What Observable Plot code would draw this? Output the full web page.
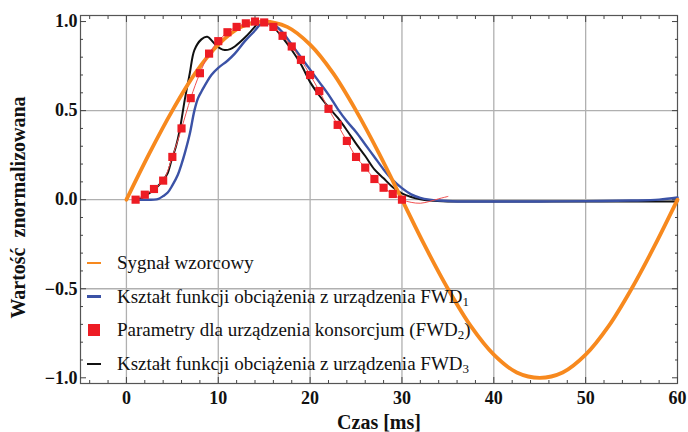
<!DOCTYPE html>
<html><head><meta charset="utf-8">
<script src="https://cdn.jsdelivr.net/npm/d3@7"></script>
<script src="https://cdn.jsdelivr.net/npm/@observablehq/plot@0.6"></script>
<style>
body{margin:0;background:#fff;}
#wrap{position:relative;width:688px;height:432px;}
#legend{position:absolute;left:86px;top:246px;font-family:'Liberation Serif';font-size:19px;color:#111;}
.row{height:33.7px;display:flex;align-items:center;white-space:nowrap;}
.sw{width:16px;margin-right:15px;display:flex;align-items:center;justify-content:center;}
.ln{width:14px;height:2.5px;}
.sq{width:12px;height:12px;}
sub{font-size:13px;vertical-align:-3px;line-height:0;}
svg text{font-family:'Liberation Serif';}
</style></head>
<body>
<div id="wrap"></div>
<script>
// Sygnał wzorcowy (orange)
const orangeT = [0,2.5,5,7.5,10,12.5,15,17.5,20,22.5,25,27.5,30,32.5,35,37.5,40,42.5,45,47.5,50,52.5,55,57.5,60];
const orangeV = [0,0.26,0.50,0.71,0.87,0.97,1.00,0.97,0.87,0.71,0.50,0.26,0,-0.26,-0.50,-0.71,-0.87,-0.97,-1.00,-0.97,-0.87,-0.71,-0.50,-0.26,0];

// FWD1 (blue)
const blueT = [1,2,3,3.5,4,4.5,5,5.6,6,6.35,6.9,7.4,7.8,8.2,9.25,10,11,11.8,12.9,14,14.7,15.3,16,17,18,19,20,21,22,23,24,25,26,27,28,29,30,31,32,33,34,36,40,45,50,55,58,60];
const blueV = [0,0,0,0.005,0.02,0.04,0.08,0.14,0.2,0.26,0.37,0.5,0.57,0.61,0.7,0.74,0.78,0.82,0.89,0.95,0.99,1.0,0.985,0.94,0.87,0.80,0.73,0.66,0.59,0.51,0.44,0.38,0.31,0.24,0.17,0.11,0.065,0.03,0.01,0,-0.005,-0.01,-0.01,-0.01,-0.008,-0.005,0,0.012];

// FWD3 (black)
const blackT = [1,1.5,2,3.1,4,4.5,4.9,5.4,5.8,6.35,6.9,7.4,8.16,8.8,9.6,10.2,10.7,11.3,11.8,12.9,13.8,14.5,15,16,17,18,19,20,21,22,23,24,25,26,27,28,29,30,31,32,33,35,40,50,55,60];
const blackV = [0,0.005,0.02,0.06,0.11,0.15,0.22,0.30,0.39,0.56,0.71,0.84,0.90,0.915,0.875,0.85,0.84,0.845,0.86,0.91,0.96,1.0,1.0,0.97,0.91,0.84,0.76,0.66,0.585,0.52,0.46,0.39,0.315,0.245,0.17,0.12,0.07,0.035,0.015,0.002,-0.005,-0.01,-0.01,-0.01,-0.01,-0.01];

// FWD2 (red squares)
const redT = [1,2,3,4,5,6,7,8,9,10,11,12,13,14,15,16,17,18,19,20,21,22,23,24,25,26,27,28,29,30];
const redV = [0,0.028,0.06,0.107,0.24,0.40,0.57,0.71,0.82,0.89,0.94,0.97,0.99,1.0,0.995,0.97,0.92,0.86,0.785,0.70,0.61,0.51,0.42,0.33,0.24,0.18,0.116,0.067,0.032,0];
// thin red fit line continuation
const redLineT = [31,32,33,34,35];
const redLineV = [-0.015,-0.02,-0.01,0.005,0.018];

const xMajor = [0,10,20,30,40,50,60];
const xMinor = [-4,-2,2,4,6,8,12,14,16,18,22,24,26,28,32,34,36,38,42,44,46,48,52,54,56,58];
const yMajor = [-1,-0.5,0,0.5,1];
const yMinor = [-0.9,-0.8,-0.7,-0.6,-0.4,-0.3,-0.2,-0.1,0.1,0.2,0.3,0.4,0.6,0.7,0.8,0.9];
const xGrid = [0,10,20,30,40,50];
const yGrid = [-0.5,0,0.5];

const pts = (T, V) => T.map((t, i) => ({t, v: V[i]}));
const orange = pts(orangeT, orangeV);
const blue = pts(blueT, blueV);
const black = pts(blackT, blackV);
const red = pts(redT, redV);
const redLine = red.concat(pts(redLineT, redLineV));

const C_OR = "#f7891e", C_BL = "#3b52a6", C_RD = "#ed1c24", C_BK = "#111111";
const tickCol = "#444";
const FONT = "Liberation Serif";

const chart = Plot.plot({
  width: 688, height: 432,
  marginLeft: 80, marginRight: 11, marginTop: 15, marginBottom: 49,
  x: {domain: [-5, 60], label: null},
  y: {domain: [-1.032, 1.034], label: null},
  style: {fontFamily: FONT, background: "white", color: "#111"},
  marks: [
    Plot.gridX(xGrid, {stroke: "#b0b0b0", strokeOpacity: 1, strokeWidth: 1.3}),
    Plot.gridY(yGrid, {stroke: "#b0b0b0", strokeOpacity: 1, strokeWidth: 1.3}),
    Plot.frame({stroke: "#555", strokeWidth: 1.2}),
    Plot.axisX(xMajor, {anchor: "bottom", label: null, tickSize: 0, tickPadding: 8, fontSize: 18, fontWeight: "bold", fontFamily: FONT, tickFormat: d => String(d)}),
    Plot.axisY(yMajor, {anchor: "left", label: null, tickSize: 0, tickPadding: 3, fontSize: 18, fontWeight: "bold", fontFamily: FONT, tickFormat: d => d.toFixed(1).replace("-", "\u2212")}),
    Plot.axisX(xMajor, {anchor: "bottom", label: null, tickSize: -6, stroke: tickCol, tickFormat: () => ""}),
    Plot.axisX(xMajor, {anchor: "top", label: null, tickSize: -6, stroke: tickCol, tickFormat: () => ""}),
    Plot.axisX(xMinor, {anchor: "bottom", label: null, tickSize: -3, stroke: tickCol, tickFormat: () => ""}),
    Plot.axisX(xMinor, {anchor: "top", label: null, tickSize: -3, stroke: tickCol, tickFormat: () => ""}),
    Plot.axisY(yMajor, {anchor: "left", label: null, tickSize: -6, stroke: tickCol, tickFormat: () => ""}),
    Plot.axisY(yMajor, {anchor: "right", label: null, tickSize: -6, stroke: tickCol, tickFormat: () => ""}),
    Plot.axisY(yMinor, {anchor: "left", label: null, tickSize: -3, stroke: tickCol, tickFormat: () => ""}),
    Plot.axisY(yMinor, {anchor: "right", label: null, tickSize: -3, stroke: tickCol, tickFormat: () => ""}),
    Plot.line(black, {x: "t", y: "v", stroke: C_BK, strokeWidth: 2, curve: "catmull-rom"}),
    Plot.line(blue, {x: "t", y: "v", stroke: C_BL, strokeWidth: 2.4, curve: "catmull-rom"}),
    Plot.line(orange, {x: "t", y: "v", stroke: C_OR, strokeWidth: 3.8, curve: "catmull-rom"}),
    Plot.line(redLine, {x: "t", y: "v", stroke: "#f25050", strokeWidth: 1, curve: "catmull-rom"}),
    Plot.dot(red, {x: "t", y: "v", symbol: "square", r: 4.6, fill: C_RD, stroke: "none"}),
    Plot.text(["Czas [ms]"], {frameAnchor: "bottom", lineAnchor: "middle", textAnchor: "middle", dy: 39, fontSize: 20, fontWeight: "bold", fontFamily: FONT, fill: "#111"}),
    Plot.text(["Warto\u015b\u0107\u00a0 znormalizowana"], {frameAnchor: "left", textAnchor: "middle", lineAnchor: "middle", dx: -62, dy: 8, rotate: -90, fontSize: 20, fontWeight: "bold", fontFamily: FONT, fill: "#111"})
  ]
});

const wrap = document.getElementById("wrap");
wrap.appendChild(chart);

const legendItems = [
  {type: "line", color: C_OR, html: "Sygna\u0142 wzorcowy"},
  {type: "line", color: C_BL, html: "Kszta\u0142t funkcji obci\u0105\u017cenia z urz\u0105dzenia FWD<sub>1</sub>"},
  {type: "sq", color: C_RD, html: "Parametry dla urz\u0105dzenia konsorcjum (FWD<sub>2</sub>)"},
  {type: "line", color: C_BK, html: "Kszta\u0142t funkcji obci\u0105\u017cenia z urz\u0105dzenia FWD<sub>3</sub>"}
];
const lg = document.createElement("div");
lg.id = "legend";
for (const it of legendItems) {
  const row = document.createElement("div");
  row.className = "row";
  const sw = document.createElement("div");
  sw.className = "sw";
  const m = document.createElement("div");
  m.className = it.type === "line" ? "ln" : "sq";
  m.style.background = it.color;
  sw.appendChild(m);
  const tx = document.createElement("span");
  tx.innerHTML = it.html;
  row.appendChild(sw);
  row.appendChild(tx);
  lg.appendChild(row);
}
wrap.appendChild(lg);
</script>
</body></html>
